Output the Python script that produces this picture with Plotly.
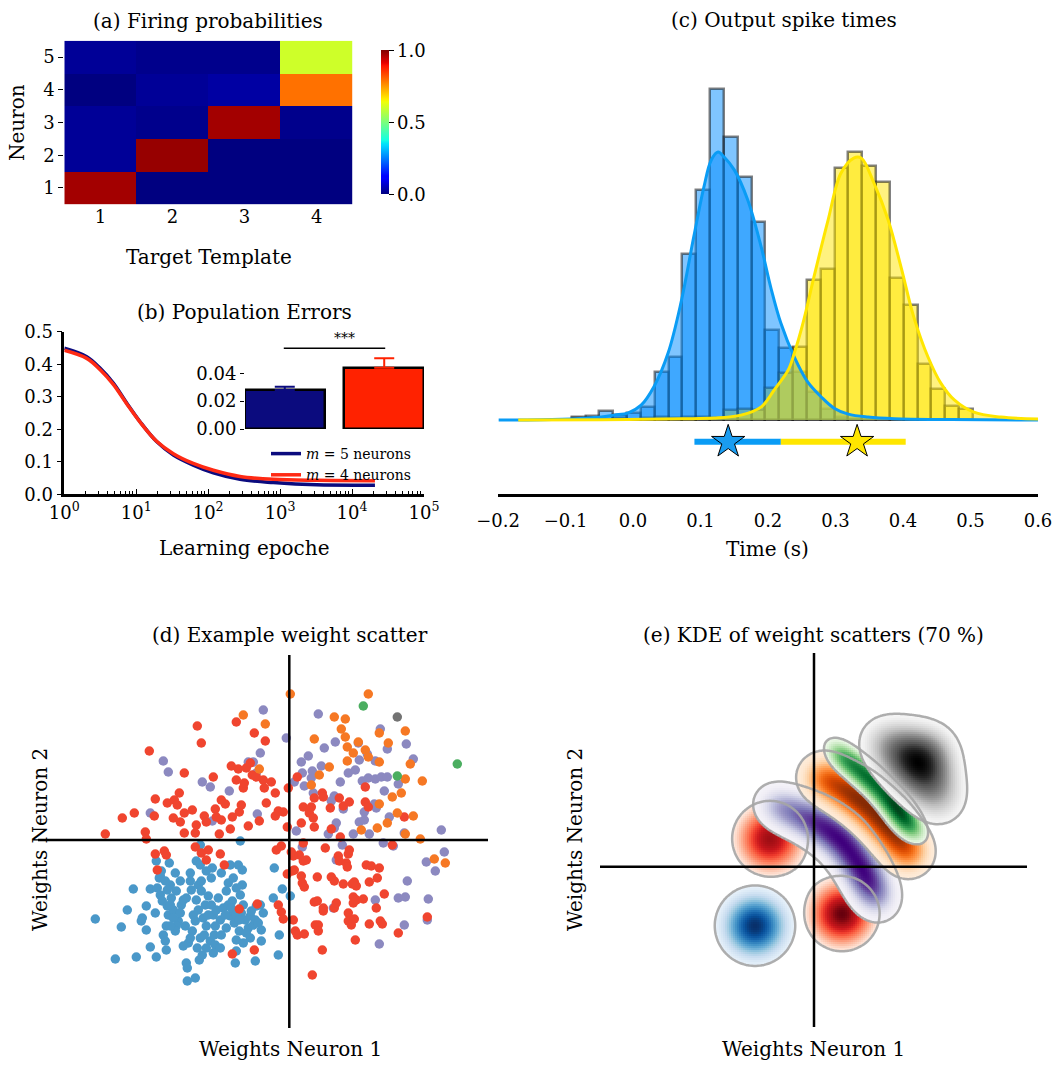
import numpy as np
import plotly.graph_objects as go
from plotly.colors import sequential as seq

W, H = 1059, 1066
FONT = "DejaVu Serif"

# ---------------- (a) firing probabilities ----------------
templates = [1, 2, 3, 4]
neurons = [1, 2, 3, 4, 5]
fire_n1 = [0.97, 0.00, 0.00, 0.00]
fire_n2 = [0.02, 0.98, 0.00, 0.00]
fire_n3 = [0.02, 0.01, 0.97, 0.01]
fire_n4 = [0.00, 0.02, 0.03, 0.79]
fire_n5 = [0.02, 0.01, 0.01, 0.60]

# ---------------- (b) population errors ----------------
epochs = [1, 2.05, 3.13, 4.8, 7.4, 11.3, 19.2, 32.8, 62, 118, 277, 804, 3220, 20800]
err_m5 = [0.449, 0.423, 0.388, 0.342, 0.280, 0.223, 0.162, 0.121, 0.090, 0.066, 0.046, 0.036, 0.029, 0.028]
err_m4 = [0.443, 0.418, 0.384, 0.338, 0.278, 0.222, 0.163, 0.125, 0.095, 0.074, 0.055, 0.046, 0.043, 0.042]
final_groups = [0, 1]
final_means = [0.028, 0.044]
final_sem = [0.0024, 0.0068]

# ---------------- (c) output spike times ----------------
bin_width = 0.0205
bin_centers = [-0.0806, -0.0601, -0.0396, -0.0191, 0.0014, 0.0219, 0.0424, 0.0629, 0.0834,
               0.1039, 0.1244, 0.1449, 0.1654, 0.1859, 0.2064, 0.2269, 0.2474, 0.2679,
               0.2884, 0.3089, 0.3294, 0.3499, 0.3704, 0.3909, 0.4114, 0.4319, 0.4524,
               0.4729, 0.4934]
counts_blue = [1.0, 1.2, 2.8, 1.5, 2.2, 4.0, 14.6, 19.0, 50.3, 69.7, 100.2, 85.9, 73.5, 59.9,
               27.3, 21.7, 14.6, 8.6, 3.5, 1.0, 0.4, 0, 0, 0, 0, 0, 0, 0, 0]
counts_yellow = [0.5, 0.5, 0, 0.5, 0, 0.5, 1.0, 0.5, 1.0, 1.0, 0.5, 3.2, 3.5, 3.0, 9.6, 14.2,
                 22.0, 42.4, 45.7, 76.3, 81.3, 77.0, 72.2, 43.2, 34.8, 17.0, 9.3, 4.3, 3.5]
kde_t_blue = [-0.199, -0.136, -0.077, -0.047, -0.028, -0.007, 0.012, 0.031, 0.052, 0.071, 0.090,
              0.105, 0.116, 0.126, 0.135, 0.150, 0.170, 0.190, 0.204, 0.219, 0.239, 0.259,
              0.279, 0.298, 0.319, 0.348, 0.387, 0.471, 0.600]
kde_blue = [0, 0.1, 0.5, 0.9, 1.5, 2.2, 4.5, 10.1, 20.3, 35.5, 55.5, 70.6, 78.8, 81.2, 79.7,
            75.8, 66.7, 52.4, 40.3, 29.4, 19.1, 11.5, 7.0, 3.6, 1.8, 0.9, 0.4, 0.15, 0]
kde_t_yellow = [-0.170, -0.047, 0.071, 0.120, 0.160, 0.190, 0.209, 0.230, 0.239, 0.253, 0.268,
                0.289, 0.308, 0.327, 0.338, 0.357, 0.378, 0.397, 0.416, 0.437, 0.456, 0.476,
                0.505, 0.545, 0.600]
kde_yellow = [0, 0.1, 0.4, 0.6, 1.5, 4.0, 9.1, 15.2, 20.3, 30.3, 43.3, 60.6, 74.8, 79.4, 79.4,
              71.8, 60.6, 46.4, 31.2, 19.1, 11.2, 6.1, 2.4, 0.9, 0.3]
star_t = [0.141, 0.332]
star_level = -6.6
range_blue = [0.091, 0.219]
range_yellow = [0.219, 0.404]
time_ticks = [-0.2, -0.1, 0.0, 0.1, 0.2, 0.3, 0.4, 0.5, 0.6]

# ---------------- (d) example weight scatter (weight neuron 1, weight neuron 2) ----------------
pts_blue = [(-19.4, -7.9), (-17.4, -11.9), (-16.8, -8.7), (-16.2, -7.0), (-15.6, -4.9), (-15.3, -11.7),
            (-14.8, -8.1), (-14.7, -7.8), (-14.3, -6.6), (-14.3, -9.0), (-13.9, -10.7), (-13.9, -4.9),
            (-13.4, -7.3), (-13.3, -11.7), (-13.3, -2.1), (-13.2, -4.8), (-13.0, -3.8), (-12.8, -3.1),
            (-12.9, -5.5), (-12.7, -6.1), (-12.6, -9.5), (-12.4, -10.1), (-12.3, -11.0), (-12.3, -8.6),
            (-12.2, -6.6), (-12.1, -7.5), (-12.0, -2.3), (-11.9, -4.5), (-11.8, -5.8), (-11.6, -7.0),
            (-11.4, -3.3), (-11.3, -5.1), (-11.1, -8.1), (-10.9, -4.1), (-10.8, -6.5), (-10.6, -6.0),
            (-10.4, -8.6), (-10.3, -12.3), (-10.2, -12.8), (-10.2, -14.1), (-10.1, -10.3), (-9.9, -3.3),
            (-9.8, -5.0), (-9.7, -9.1), (-9.6, -7.5), (-9.4, -13.8), (-9.3, -2.1), (-9.3, -6.0),
            (-9.2, -10.8), (-9.1, -4.5), (-9.0, -12.0), (-8.9, -9.8), (-8.9, -2.5), (-8.8, -5.1),
            (-8.7, -11.5), (-8.6, -7.8), (-8.4, -6.5), (-8.3, -3.1), (-8.3, -8.6), (-8.1, -5.6),
            (-7.9, -10.1), (-7.8, -3.8), (-7.7, -2.8), (-7.6, -7.5), (-7.5, -9.5), (-7.4, -10.5),
            (-7.3, -7.0), (-6.9, -8.0), (-6.8, -3.3), (-6.6, -6.8), (-6.3, -8.8), (-6.3, -5.1),
            (-6.1, -4.3), (-5.9, -2.5), (-5.9, -7.6), (-5.7, -6.1), (-5.6, -3.8), (-5.5, -8.3),
            (-5.4, -12.3), (-5.3, -10.0), (-5.3, -4.8), (-5.1, -2.5), (-5.0, -9.1), (-4.9, -5.5),
            (-4.8, -7.3), (-4.7, -3.0), (-4.7, -4.5), (-4.6, -10.3), (-4.4, -8.0), (-4.1, -8.8),
            (-3.9, -7.6), (-3.8, -7.1), (-3.6, -8.5), (-3.4, -12.1), (-3.3, -6.6), (-2.9, -6.5),
            (-2.8, -9.0), (-2.8, -10.1), (-2.6, -7.3), (-1.6, -5.8), (-1.5, -2.8), (-1.0, -9.5),
            (-1.1, -11.5), (-0.7, -4.9), (-8.9, -0.5), (-4.9, -0.1), (0.1, -5.6),
            (-12.9, -3.6), (-12.4, -4.1), (-12.2, -5.0), (-11.9, -6.5), (-11.6, -7.8), (-11.3, -8.6),
            (-10.9, -7.3), (-10.3, -5.8), (-9.9, -4.1), (-9.4, -8.1), (-9.1, -7.0), (-8.8, -4.1),
            (-8.5, -9.5), (-8.1, -7.5), (-7.8, -6.5), (-7.4, -8.6), (-7.1, -5.8), (-6.8, -9.5),
            (-6.4, -7.5), (-6.1, -6.5), (-5.8, -6.8), (-5.3, -7.5), (-5.0, -8.0), (-4.6, -6.5),
            (-4.3, -9.3), (-3.9, -9.8), (-3.4, -8.0), (-3.1, -8.3), (-5.3, -11.1), (-9.9, -9.8),
            (-10.6, -10.6), (-8.3, -10.8), (-7.6, -11.3), (-6.9, -10.8), (-11.4, -9.1), (-11.9, -8.6)]
pts_purple = [(-13.9, 2.7), (-12.6, 7.9), (-12.1, 6.8), (-8.7, 5.8), (-7.9, 5.3), (-7.7, 1.9), (-6.0, 4.9),
              (-4.1, 7.8), (-3.6, 7.8), (-3.3, 6.7), (-3.2, 2.6), (-2.9, 8.7), (-2.6, 13.0), (-0.3, 10.2),
              (2.9, 12.6), (1.9, 8.4), (1.2, 7.8), (1.3, 6.7), (0.5, 5.8), (1.5, 5.4), (2.3, 6.9),
              (2.2, 6.2), (3.2, 7.4), (3.5, 9.2), (4.6, 9.8), (5.1, 5.8), (5.9, 6.7), (6.6, 7.0),
              (6.9, 9.7), (7.0, 8.0), (7.8, 8.6), (7.3, 5.9), (7.9, 6.2), (8.6, 6.1), (9.2, 6.3),
              (9.8, 6.3), (8.6, 7.9), (9.1, 11.1), (9.8, 9.1), (11.7, 9.6), (12.4, 8.1), (9.5, 4.9),
              (10.9, 5.6), (2.4, 4.7), (4.2, 3.9), (4.5, 4.4), (5.4, 3.1), (7.5, 2.8), (8.5, 3.6),
              (8.7, 3.2), (10.0, 2.3), (7.0, 1.8), (7.5, 2.0), (4.7, 1.7), (4.5, 1.2), (3.9, 0.6),
              (6.4, 0.6), (8.0, 0.6), (11.5, 0.7), (15.2, 1.0), (0.7, 0.9), (1.3, -0.7), (5.3, -0.5),
              (9.4, -0.3), (10.4, -0.6), (4.7, -2.0), (13.7, -2.2), (14.6, -3.1), (15.5, -1.2),
              (11.8, -4.1), (8.6, -6.0), (10.9, -5.8), (11.6, -5.7), (13.9, -5.9), (4.4, -6.8),
              (11.5, -8.5), (9.0, -10.4), (13.8, -8.0)]
pts_red = [(-18.4, 0.6), (-16.7, 2.2), (-15.5, 2.7), (-14.4, 0.8), (-14.3, 0.1), (-14.0, 8.9), (-13.5, 2.4),
           (-13.4, 4.1), (-12.2, 3.7), (-11.6, 2.2), (-11.5, 4.0), (-11.2, 3.5), (-11.0, 4.7), (-10.9, 1.8),
           (-10.5, 6.7), (-10.5, 2.7), (-10.5, 0.7), (-9.7, 3.0), (-9.4, 0.7), (-9.3, 1.5), (-9.2, 11.4),
           (-8.8, 9.7), (-8.5, 2.4), (-8.3, 1.8), (-7.6, 6.3), (-7.4, 3.1), (-7.3, 2.3), (-7.0, 0.6),
           (-6.8, 4.0), (-6.8, 2.0), (-6.4, 3.6), (-5.9, 1.1), (-5.8, 7.4), (-5.7, 2.3), (-5.3, 11.8),
           (-5.3, 6.0), (-5.1, 7.1), (-5.0, 2.8), (-4.8, 3.5), (-4.6, 5.2), (-4.5, 5.7), (-4.3, 7.2),
           (-4.1, 1.4), (-3.9, 7.7), (-3.7, 6.5), (-3.5, 10.7), (-3.3, 6.3), (-3.0, 1.9), (-2.6, 6.0),
           (-2.5, 5.2), (-2.4, 9.9), (-2.3, 3.7), (-1.8, 5.8), (-1.4, 2.4), (-1.4, 4.7), (-1.1, 2.9),
           (-0.6, 2.8), (-0.2, 1.3), (-0.1, 5.2),
           (0.8, 6.3), (1.4, 3.3), (2.0, 2.7), (2.2, 3.3), (2.4, 2.2), (2.5, 4.2), (1.2, 1.7), (2.5, 1.3),
           (3.3, 4.7), (3.4, 4.3), (4.1, 3.2), (5.0, 4.2), (5.4, 3.4), (6.0, 3.8), (7.6, 5.3), (7.6, 3.8),
           (7.9, 3.3), (11.5, 2.3), (4.2, 1.1), (5.1, 0.3),
           (1.4, -0.3), (1.0, -1.5), (1.4, -2.1), (1.7, -2.0), (0.4, -1.6), (0.5, -3.0), (1.2, -3.6),
           (1.3, -4.3), (1.5, -4.7), (2.8, -3.7), (3.6, -0.8), (4.2, -3.7), (4.5, -4.1), (4.9, -1.6),
           (5.0, -2.1), (5.4, -4.4), (5.7, -2.3), (5.8, -2.7), (5.9, -1.4), (6.0, -1.0), (6.3, -4.4),
           (6.5, -4.2), (6.7, -4.6), (6.4, -5.7), (6.4, -6.3), (6.7, -6.0), (7.4, -5.9), (7.7, -2.5),
           (8.2, -2.6), (8.0, -4.2), (8.8, -3.8), (9.0, -2.8), (9.5, -5.4), (8.7, -6.8), (2.5, -6.2),
           (2.8, -6.1), (3.4, -6.8), (3.4, -7.1), (4.5, -6.8), (4.7, -6.3), (5.9, -7.3), (5.9, -8.1),
           (6.2, -8.5), (6.5, -7.9), (2.6, -8.5), (2.9, -8.5), (2.9, -9.1), (0.4, -8.0), (0.6, -9.1),
           (0.8, -9.5), (1.5, -9.4), (8.0, -8.4), (9.1, -8.1), (9.3, -8.4), (6.6, -10.0), (3.3, -11.0),
           (10.9, -9.3), (13.8, -7.7), (2.3, -13.5), (10.3, -0.5), (0.2, -1.2), (0.3, -3.1),
           (-13.4, -1.4), (-13.2, -3.0), (-12.5, -1.1), (-12.3, -1.5), (-9.4, -0.7), (-8.8, -1.3),
           (-8.3, -2.0), (-8.1, -1.0), (-6.9, -1.4), (-6.5, -2.5), (-5.0, -6.9), (-5.7, -11.4),
           (-3.5, -11.0), (-3.2, -6.4), (-1.3, -1.0), (-0.8, -0.6), (-1.1, -6.5), (-0.8, -7.2),
           (-0.6, -7.9), (-0.2, -3.4)]
pts_orange = [(-4.6, 12.5), (-2.4, 11.6), (-3.0, 7.1), (0.1, 14.6), (7.9, 14.6), (4.5, 12.3), (5.6, 12.1),
              (5.2, 11.1), (5.6, 10.3), (2.5, 10.1), (5.8, 9.3), (6.4, 8.7), (6.9, 9.8), (7.6, 9.0),
              (7.9, 8.3), (9.0, 7.8), (5.8, 7.9), (4.0, 7.3), (3.0, 6.5), (2.2, 5.5), (9.0, 10.7),
              (9.9, 9.7), (11.6, 10.9), (12.1, 7.6), (11.6, 6.1), (13.3, 5.9), (11.2, 4.7), (10.3, 4.3),
              (9.0, 3.6), (10.8, 2.7), (12.4, 2.4), (9.8, 1.7), (8.8, 1.2), (7.2, 1.0), (11.6, 0.6),
              (13.1, 0.1), (14.5, -1.9), (15.6, -2.3)]
pts_green = [(7.4, 13.4), (16.8, 7.6), (10.8, 6.4)]
pts_gray = [(10.8, 12.3)]

# ---------------- (e) KDE kernels per firing pattern: (cx, cy, sd along anti-diagonal, sd along diagonal) ----------------
kde_blue_parts = [(-5.9, -5.9, 2.6, 2.6)]
kde_red_parts = [(-4.4, 2.8, 2.5, 2.5), (2.8, -4.7, 2.4, 2.4)]
kde_purple_parts = [(-4.0, 6.2, 2.4, 2.3), (-0.2, 4.8, 2.4, 2.3), (2.9, 2.9, 2.4, 2.3),
                    (4.9, -0.2, 2.4, 2.3), (6.4, -3.4, 2.4, 2.3)]
kde_orange_parts = [(0.62, 9.11, 2.3, 2.4), (4.30, 7.13, 2.3, 2.4), (7.27, 4.44, 2.3, 2.4), (9.68, 1.19, 2.3, 2.4)]
kde_green_parts = [(2.69, 11.17, 2.0, 1.3), (5.44, 8.98, 2.0, 1.3), (7.92, 6.51, 2.0, 1.3), (9.62, 3.96, 2.0, 1.3)]
kde_gray_parts = [(9.8, 9.6, 2.6, 2.6), (6.9, 12.6, 2.6, 2.6), (12.7, 6.6, 2.6, 2.6), (11.8, 11.8, 2.6, 2.6)]
kde_mass = 0.70


def px_x(p):
    return p / W


def px_y(p):
    return 1 - p / H


def jet_scale():
    stops = [0, .11, .125, .34, .35, .375, .64, .65, .66, .89, .91, 1]
    out = []
    for t in stops:
        r = np.interp(t, [0, .35, .66, .89, 1], [0, 0, 1, 1, .5])
        g = np.interp(t, [0, .125, .375, .64, .91, 1], [0, 0, 1, 1, 0, 0])
        b = np.interp(t, [0, .11, .34, .65, 1], [.5, 1, 1, 0, 0])
        out.append([t, f"rgb({int(round(r * 255))},{int(round(g * 255))},{int(round(b * 255))})"])
    return out


fig = go.Figure()

# (a) heatmap
fig.add_trace(go.Heatmap(
    x=templates, y=neurons, z=[fire_n1, fire_n2, fire_n3, fire_n4, fire_n5],
    zmin=0, zmax=1, colorscale=jet_scale(), xaxis="x", yaxis="y", hoverinfo="skip",
    colorbar=dict(x=px_x(370.5), xanchor="left", y=px_y(122.5), yanchor="middle",
                  len=(204.3 - 40.7) / H, lenmode="fraction", thickness=8, outlinewidth=0,
                  ticks="outside", ticklen=5, tickwidth=1.2, tickcolor="black",
                  tickvals=[0, 0.5, 1], ticktext=["0.0", "0.5", "1.0"],
                  tickfont=dict(family=FONT, size=18, color="black"))))

# (b) learning curves
fig.add_trace(go.Scatter(x=epochs, y=err_m5, mode="lines", name="<i>m</i> = 5 neurons",
                         line=dict(color="#0b0b7e", width=3.5, shape="spline"),
                         xaxis="x2", yaxis="y2", hoverinfo="skip"))
fig.add_trace(go.Scatter(x=epochs, y=err_m4, mode="lines", name="<i>m</i> = 4 neurons",
                         line=dict(color="#ff2a14", width=3.5, shape="spline"),
                         xaxis="x2", yaxis="y2", hoverinfo="skip"))
# (b) inset: final errors
for g, m, s, col in zip(final_groups, final_means, final_sem, ["#0b0b7e", "#ff2200"]):
    fig.add_trace(go.Bar(x=[g], y=[m], width=0.8, marker=dict(color=col, line=dict(color="black", width=2.5)),
                         error_y=dict(type="data", array=[s], arrayminus=[0], symmetric=False,
                                      color=col, thickness=2, width=10),
                         xaxis="x3", yaxis="y3", showlegend=False, hoverinfo="skip"))

# (c) spike time distributions
blue_fill = "rgba(0,140,255,0.5)"
yellow_fill = "rgba(255,230,0,0.5)"
fig.add_trace(go.Scatter(x=kde_t_blue, y=kde_blue, mode="lines", line=dict(width=0, shape="spline"),
                         fill="tozeroy", fillcolor=blue_fill, xaxis="x4", yaxis="y4",
                         showlegend=False, hoverinfo="skip"))
fig.add_trace(go.Scatter(x=kde_t_yellow, y=kde_yellow, mode="lines", line=dict(width=0, shape="spline"),
                         fill="tozeroy", fillcolor=yellow_fill, xaxis="x4", yaxis="y4",
                         showlegend=False, hoverinfo="skip"))
for cnt, col in [(counts_blue, blue_fill), (counts_yellow, yellow_fill)]:
    fig.add_trace(go.Bar(x=bin_centers, y=cnt, width=bin_width,
                         marker=dict(color=col, line=dict(color="rgba(25,25,25,0.55)", width=2.5)),
                         xaxis="x4", yaxis="y4", showlegend=False, hoverinfo="skip"))
fig.add_trace(go.Scatter(x=kde_t_blue, y=kde_blue, mode="lines", line=dict(color="#0a9cf5", width=3, shape="spline"),
                         xaxis="x4", yaxis="y4", showlegend=False, hoverinfo="skip"))
fig.add_trace(go.Scatter(x=kde_t_yellow, y=kde_yellow, mode="lines", line=dict(color="#ffe600", width=3, shape="spline"),
                         xaxis="x4", yaxis="y4", showlegend=False, hoverinfo="skip"))
fig.add_trace(go.Scatter(x=range_blue, y=[star_level, star_level], mode="lines", line=dict(color="#0a9cf5", width=6),
                         xaxis="x4", yaxis="y4", showlegend=False, hoverinfo="skip"))
fig.add_trace(go.Scatter(x=range_yellow, y=[star_level, star_level], mode="lines", line=dict(color="#ffe600", width=6),
                         xaxis="x4", yaxis="y4", showlegend=False, hoverinfo="skip"))
fig.add_trace(go.Scatter(x=star_t, y=[star_level, star_level], mode="markers",
                         marker=dict(symbol="star", size=25, color=["#1a9cf0", "#ffe600"],
                                     line=dict(color="black", width=1)),
                         xaxis="x4", yaxis="y4", showlegend=False, hoverinfo="skip"))

# (d) example weight scatter
for pts, col in [(pts_blue, "#4a98c9"), (pts_purple, "#8c89c0"), (pts_red, "#f0452f"),
                 (pts_orange, "#f67824"), (pts_green, "#4bae60"), (pts_gray, "#737373")]:
    fig.add_trace(go.Scatter(x=[p[0] for p in pts], y=[p[1] for p in pts], mode="markers",
                             marker=dict(color=col, size=9.5, line=dict(width=0)),
                             xaxis="x5", yaxis="y5", showlegend=False, hoverinfo="skip"))

# (e) KDE regions holding 70 % of the mass, drawn bottom to top
gx = np.arange(-21.4, 21.31, 0.2)
gy = np.arange(-16.0, 21.41, 0.2)
GX, GY = np.meshgrid(gx, gy)


def density(parts):
    d = np.zeros_like(GX)
    for cx, cy, su, sv in parts:
        dx, dy = GX - cx, GY - cy
        u = (dx - dy) / np.sqrt(2)
        v = (dx + dy) / np.sqrt(2)
        d += np.exp(-0.5 * (u ** 2 / su ** 2 + v ** 2 / sv ** 2)) / (2 * np.pi * su * sv)
    return d / len(parts)


layers = [(kde_blue_parts, seq.Blues, 1.3), (kde_red_parts, seq.Reds, 1.1),
          (kde_purple_parts, seq.Purples, 1.9), (kde_orange_parts, seq.Oranges, 1.9),
          (kde_green_parts, seq.Greens, 1.3), (kde_gray_parts, seq.Greys, 1.3)]
for parts, scale, gamma in layers:
    d = density(parts)
    flat = np.sort(d.ravel())[::-1]
    cum = np.cumsum(flat) / flat.sum()
    level = flat[np.searchsorted(cum, kde_mass)]
    # shade by relative height above the 70 % level
    shade = np.clip((d - level) / (d.max() - level), 0, 1) ** gamma
    z = np.where(d >= level, shade, np.nan)
    fig.add_trace(go.Heatmap(x=gx, y=gy, z=z, colorscale=scale, zmin=-0.08, zmax=1,
                             showscale=False, xaxis="x6", yaxis="y6", hoverinfo="skip"))
    fig.add_trace(go.Contour(x=gx, y=gy, z=d, autocontour=False,
                             contours=dict(start=level, end=level, size=1, coloring="none"),
                             line=dict(color="rgba(165,165,165,0.9)", width=2.5), showscale=False,
                             xaxis="x6", yaxis="y6", hoverinfo="skip"))


def label(text, x, y, size=20, angle=0):
    return dict(text=text, x=px_x(x), y=px_y(y), xref="paper", yref="paper", showarrow=False,
                textangle=angle, xanchor="center", yanchor="middle",
                font=dict(family=FONT, size=size, color="black"))


annotations = [
    label("(a) Firing probabilities", 208, 21),
    label("Target Template", 209, 257),
    label("Neuron", 17, 123, angle=-90),
    label("(b) Population Errors", 244, 312),
    label("Learning epoche", 244, 548),
    label("(c) Output spike times", 784, 20),
    label("Time (s)", 767, 549),
    label("(d) Example weight scatter", 290, 635),
    label("Weights Neuron 1", 290, 1049),
    label("Weights Neuron 2", 40, 840, angle=-90),
    label("(e) KDE of weight scatters (70 %)", 813, 635),
    label("Weights Neuron 1", 813, 1049),
    label("Weights Neuron 2", 575, 840, angle=-90),
    dict(text="***", x=0.6, y=0.0655, xref="x3", yref="y3", showarrow=False,
         font=dict(family=FONT, size=14, color="black"), xanchor="center", yanchor="middle"),
]

cross = dict(color="black", width=2.5)
shapes = [
    dict(type="line", xref="x3", yref="y3", x0=-0.01, x1=1.01, y0=0.058, y1=0.058,
         line=dict(color="black", width=1.5)),
    dict(type="line", xref="x5", yref="y5 domain", x0=0, x1=0, y0=0, y1=1, line=cross, layer="above"),
    dict(type="line", xref="x5 domain", yref="y5", x0=0, x1=1, y0=0, y1=0, line=cross, layer="above"),
    dict(type="line", xref="x6", yref="y6 domain", x0=0, x1=0, y0=0, y1=1, line=cross, layer="above"),
    dict(type="line", xref="x6 domain", yref="y6", x0=0, x1=1, y0=0, y1=0, line=cross, layer="above"),
]

tickfont = dict(family=FONT, size=18, color="black")
hidden = dict(visible=False, showgrid=False, zeroline=False)
minor_log = [m * 10 ** k for k in range(5) for m in range(2, 10)]

fig.update_layout(
    width=W, height=H, margin=dict(l=0, r=0, t=0, b=0, autoexpand=False),
    paper_bgcolor="white", plot_bgcolor="rgba(0,0,0,0)",
    font=dict(family=FONT, color="black"),
    barmode="overlay", bargap=0,
    showlegend=True,
    legend=dict(x=px_x(266), y=px_y(438), xanchor="left", yanchor="top", bgcolor="rgba(0,0,0,0)",
                font=dict(family=FONT, size=14, color="black"), tracegroupgap=0, itemwidth=30),
    annotations=annotations, shapes=shapes,
    # (a)
    xaxis=dict(domain=[px_x(64.3), px_x(352.7)], range=[0.5, 4.5], anchor="y", tickvals=templates,
               showgrid=False, zeroline=False, showline=False, ticks="", tickfont=tickfont),
    yaxis=dict(domain=[px_y(204.3), px_y(40.7)], range=[0.5, 5.5], anchor="x", tickvals=neurons,
               showgrid=False, zeroline=False, showline=False, ticks="outside", ticklen=5,
               tickcolor="black", tickfont=tickfont),
    # (b)
    xaxis2=dict(type="log", domain=[px_x(64.3), px_x(424)], range=[0, 5], anchor="y2",
                tickvals=[1, 10, 100, 1000, 1e4, 1e5],
                ticktext=["10<sup>0</sup>", "10<sup>1</sup>", "10<sup>2</sup>", "10<sup>3</sup>",
                          "10<sup>4</sup>", "10<sup>5</sup>"],
                showline=True, linecolor="black", linewidth=2.5, ticks="inside", ticklen=6,
                tickcolor="black", showgrid=False, zeroline=False, tickfont=tickfont,
                minor=dict(tickvals=minor_log, ticks="inside", ticklen=3.5, tickcolor="black", showgrid=False)),
    yaxis2=dict(domain=[px_y(494.3), px_y(331.7)], range=[0, 0.5], anchor="x2",
                tickvals=[0, 0.1, 0.2, 0.3, 0.4, 0.5], tickformat=".1f",
                showline=True, linecolor="black", linewidth=2.5, ticks="outside", ticklen=5,
                tickcolor="black", showgrid=False, zeroline=False, tickfont=tickfont),
    xaxis3=dict(domain=[px_x(245), px_x(424)], range=[-0.4, 1.4], anchor="y3", **hidden),
    yaxis3=dict(domain=[px_y(429), px_y(330)], range=[0, 0.0711], anchor="x3",
                tickvals=[0, 0.02, 0.04], tickformat=".2f", ticks="outside", ticklen=4, tickcolor="black",
                showline=False, showgrid=False, zeroline=False, layer="below traces", tickfont=tickfont),
    # (c)
    xaxis4=dict(domain=[px_x(498), px_x(1038)], range=[-0.2, 0.6], anchor="y4",
                tickvals=time_ticks, tickformat=".1f", showline=True, linecolor="black", linewidth=3,
                ticks="", showgrid=False, zeroline=False, tickfont=tickfont, ticklabelstandoff=8),
    yaxis4=dict(domain=[px_y(494), px_y(60)], range=[-22.4, 109.1], anchor="x4", **hidden),
    # (d)
    xaxis5=dict(domain=[px_x(38), px_x(488)], range=[-25.13, 19.87], anchor="y5", **hidden),
    yaxis5=dict(domain=[px_y(1028), px_y(655)], range=[-18.8, 18.5], anchor="x5", **hidden),
    # (e)
    xaxis6=dict(domain=[px_x(600), px_x(1027)], range=[-21.4, 21.3], anchor="y6", **hidden),
    yaxis6=dict(domain=[px_y(1027), px_y(653)], range=[-16.03, 21.37], anchor="x6", **hidden),
)
fig.update_xaxes(automargin=False)
fig.update_yaxes(automargin=False)

for tr in fig.data:
    if tr.name is None or "neurons" not in tr.name:
        tr.showlegend = False

fig.write_html("out.html")
